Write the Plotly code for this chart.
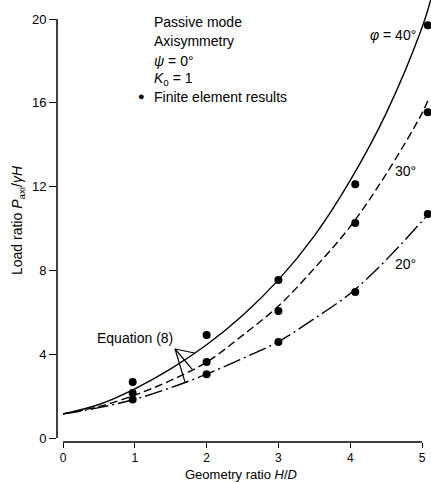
import numpy as np
import plotly.graph_objects as go

# Equation (8) curves: load ratio against geometry ratio H/D
hd_40 = [0, 0.5, 1, 1.5, 2, 2.5, 3, 3.5, 4, 4.5, 5, 5.12]
load_40 = [1.15, 1.6, 2.35, 3.3, 4.45, 5.85, 7.55, 9.65, 12.3, 15.5, 19.6, 20.9]

hd_30 = [0, 0.5, 1, 1.5, 2, 2.5, 3, 3.5, 4, 4.5, 5, 5.08]
load_30 = [1.15, 1.5, 2.05, 2.75, 3.62, 4.9, 6.3, 8.1, 10.1, 12.6, 15.5, 16.1]

hd_20 = [0, 0.5, 1, 1.5, 2, 2.5, 3, 3.5, 4, 4.5, 5, 5.08]
load_20 = [1.15, 1.45, 1.85, 2.4, 3.05, 3.8, 4.6, 5.7, 6.9, 8.5, 10.35, 10.65]

# Finite element results
fe_hd = [0.97, 2.0, 3.0, 4.07, 5.08]
fe_40 = [2.67, 4.92, 7.54, 12.12, 19.7]
fe_30 = [2.15, 3.63, 6.06, 10.26, 15.55]
fe_20 = [1.84, 3.05, 4.58, 6.97, 10.69]

x_ticks = [0, 1, 2, 3, 4, 5]
y_ticks = [0, 4, 8, 12, 16, 20]

FONT = "Liberation Sans, Arial, Helvetica, sans-serif"
W, H = 431, 482
L, R, T, B = 57, 0, 0, 40
PW, PH = W - L - R, H - T - B


def paper(px, py):
    """Pixel position in the figure -> paper fraction of the plot area."""
    return (px - L) / PW, (H - B - py) / PH


fig = go.Figure()

line_w = 1.4
fig.add_trace(go.Scatter(x=hd_40, y=load_40, mode="lines", line=dict(color="black", width=line_w, shape="spline"),
                         hoverinfo="skip", showlegend=False))
fig.add_trace(go.Scatter(x=hd_30, y=load_30, mode="lines",
                         line=dict(color="black", width=line_w, shape="spline", dash="8px,4px"),
                         hoverinfo="skip", showlegend=False))
fig.add_trace(go.Scatter(x=hd_20, y=load_20, mode="lines",
                         line=dict(color="black", width=line_w, shape="spline", dash="18px,4px,2px,4px"),
                         hoverinfo="skip", showlegend=False))

for ys in (fe_40, fe_30, fe_20):
    fig.add_trace(go.Scatter(x=fe_hd, y=ys, mode="markers", marker=dict(color="black", size=8),
                             showlegend=False))

axis_common = dict(showgrid=False, zeroline=False, showline=False, ticks="outside",
                   tickwidth=1.3, tickcolor="black")

fig.update_layout(
    width=W, height=H,
    margin=dict(l=L, r=R, t=T, b=B),
    paper_bgcolor="white", plot_bgcolor="white",
    font=dict(family=FONT, size=14, color="black"),
    xaxis=dict(range=[-0.084, 5.125], tickvals=x_ticks, ticktext=[str(v) for v in x_ticks],
               ticklen=5, tickfont=dict(family=FONT, size=12, color="black"), **axis_common),
    yaxis=dict(range=[-0.19, 20.91], tickvals=y_ticks, ticktext=[str(v) for v in y_ticks],
               ticklen=7, tickfont=dict(family=FONT, size=13, color="black"), **axis_common),
)

# Axis lines: x axis spans 0..5, y axis spans 0..20
fig.add_shape(type="line", xref="x", yref="paper", x0=0, x1=5, y0=0, y1=0,
              line=dict(color="black", width=1.5))
fig.add_shape(type="line", xref="paper", yref="y", x0=0, x1=0, y0=0, y1=20,
              line=dict(color="black", width=1.5))

# Leader lines from the "Equation (8)" label to the three curves
apex = (1.56, 4.25)
for xs, ys, xt in ((hd_40, load_40, 1.83), (hd_30, load_30, 1.80), (hd_20, load_20, 1.70)):
    yt = float(np.interp(xt, xs, ys))
    fig.add_shape(type="line", xref="x", yref="y", x0=apex[0], y0=apex[1], x1=xt, y1=yt,
                  line=dict(color="black", width=1.2))


def text(px, py, s, anchor="left", size=14, angle=0):
    x, y = paper(px, py)
    fig.add_annotation(x=x, y=y, xref="paper", yref="paper", text=s, showarrow=False,
                       xanchor=anchor, yanchor="middle", textangle=angle,
                       font=dict(family=FONT, size=size, color="black"))


# Key block
text(152, 22, "Passive mode")
text(152, 41, "Axisymmetry")
text(152, 61, "<i>ψ</i> = 0°")
text(152, 79, "<i>K</i><sub>0</sub> = 1")
text(136, 96, "●", size=11)
text(152, 97, "Finite element results")

# Curve labels
text(418, 35, "<i>φ</i> = 40°", anchor="right")
text(393, 171, "30°")
text(393, 264, "20°")
text(95, 338, "Equation (8)")

# Axis titles
text(241, 474, "Geometry ratio <i>H</i>/<i>D</i>", anchor="center", size=13)
text(18, 220, "Load ratio <i>P</i><sub>axi</sub>/<i>γH</i>", anchor="center", size=14, angle=-90)

fig.write_html("out.html")
